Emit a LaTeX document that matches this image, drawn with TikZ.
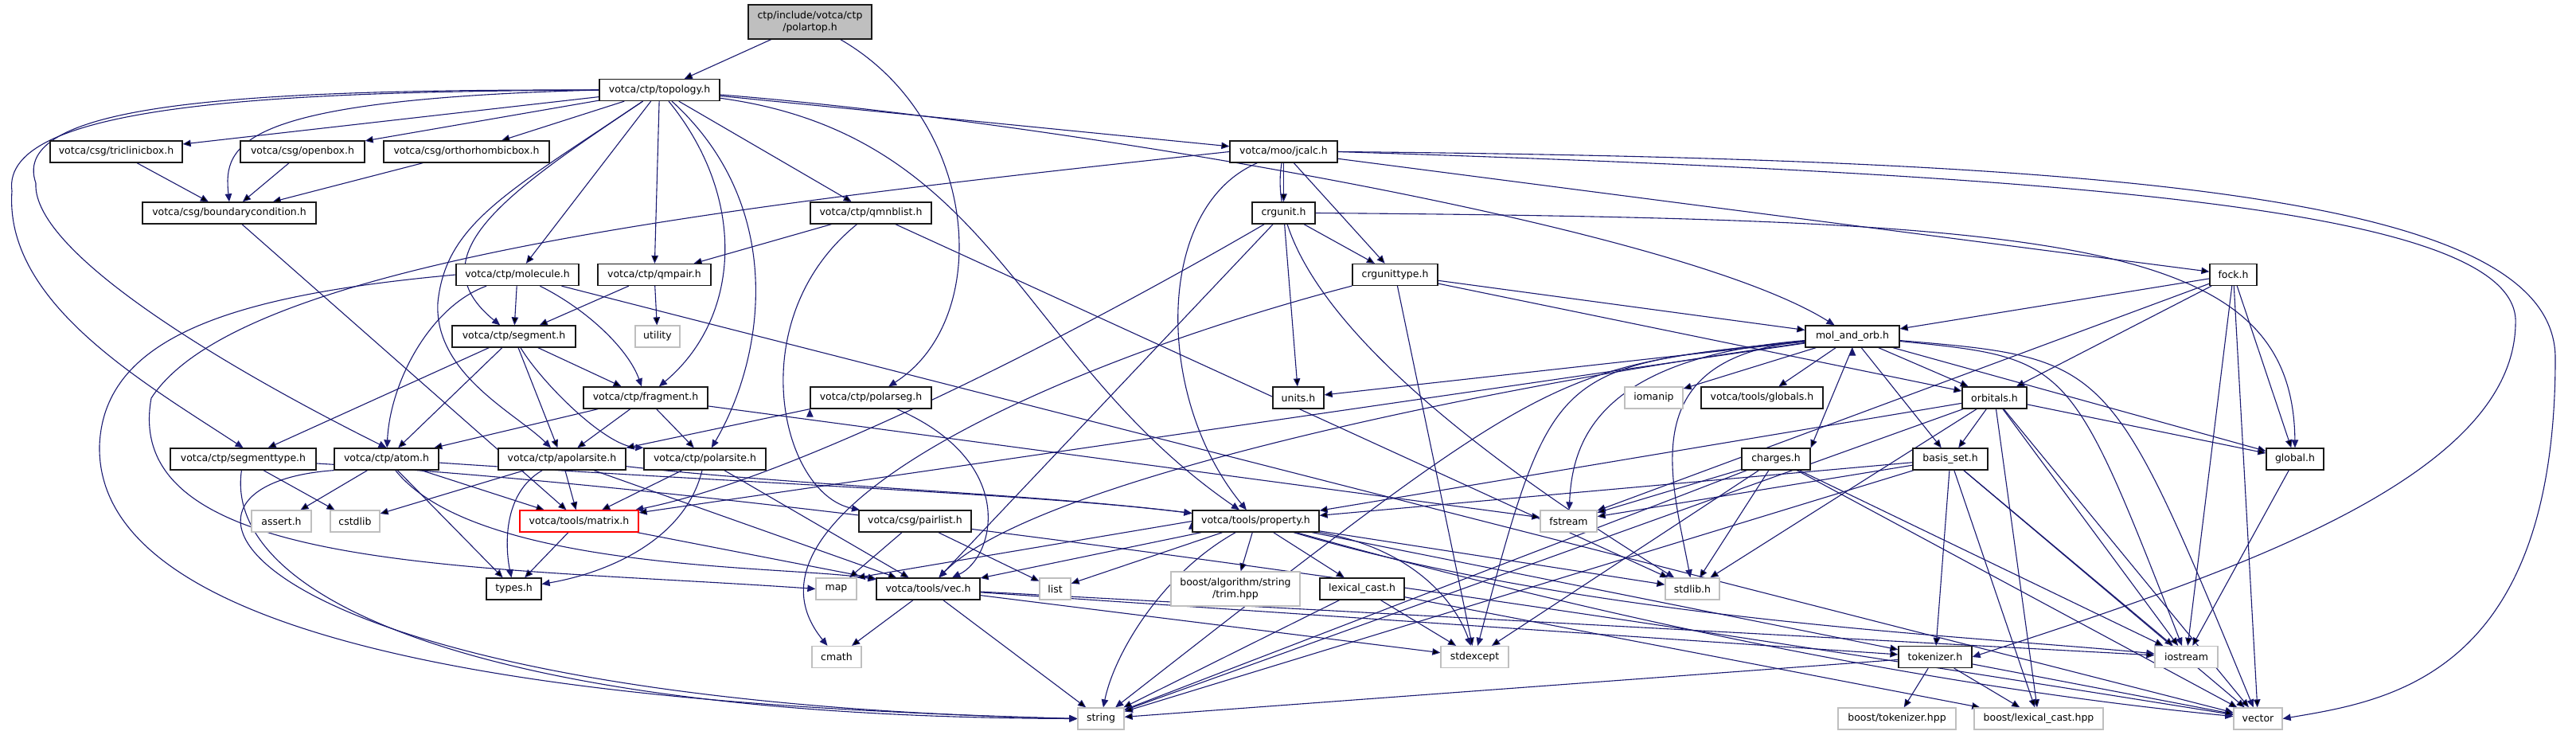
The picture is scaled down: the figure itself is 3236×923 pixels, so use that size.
\documentclass[tikz,border=0pt]{standalone}
\usepackage{fontspec}
\setmainfont{DejaVu Sans}
\usetikzlibrary{arrows.meta,backgrounds}
\definecolor{edgeblue}{RGB}{25,25,112}
\definecolor{sysgrey}{RGB}{191,191,191}
\definecolor{mainfill}{RGB}{191,191,191}
\definecolor{badred}{RGB}{255,0,0}

\begin{document}
\begin{tikzpicture}[
  x=1pt, y=-1pt,
  font=\fontsize{12.5}{15}\selectfont,
  file/.style={draw=black!90, line width=1.3pt, fill=white, minimum height=27pt,
               inner sep=0pt, align=center},
  sysfile/.style={file, draw=sysgrey},
  wd/.style={minimum width=#1pt},
  arr/.style={draw=edgeblue, line width=1.1pt, -{Triangle[length=10pt,width=8.5pt]}}
]
\useasboundingbox (0,0) rectangle (3236,923);

% headers of the project
\node[file, wd=155, minimum height=43pt, fill=mainfill] (polartop) at (1017.5,27.5) {ctp/include/votca/ctp\\/polartop.h};
\node[file, wd=151] (topology)  at (828.5,113)  {votca/ctp/topology.h};
\node[file, wd=166] (triclinic) at (146,190.5)  {votca/csg/triclinicbox.h};
\node[file, wd=156] (openbox)   at (380,190.5)  {votca/csg/openbox.h};
\node[file, wd=208] (orthobox)  at (586,190.5)  {votca/csg/orthorhombicbox.h};
\node[file, wd=135] (jcalc)     at (1612.5,190.5) {votca/moo/jcalc.h};
\node[file, wd=218] (bcond)     at (288,267.5)  {votca/csg/boundarycondition.h};
\node[file, wd=152] (qmnblist)  at (1094,267.5) {votca/ctp/qmnblist.h};
\node[file, wd=79]  (crgunit)   at (1612.5,267.5) {crgunit.h};
\node[file, wd=154] (molecule)  at (650,345)    {votca/ctp/molecule.h};
\node[file, wd=142] (qmpair)    at (822,345)    {votca/ctp/qmpair.h};
\node[file, wd=107] (crgtype)   at (1752.5,345) {crgunittype.h};
\node[file, wd=59]  (fock)      at (2805.5,345) {fock.h};
\node[file, wd=155] (segment)   at (645.5,422.5) {votca/ctp/segment.h};
\node[file, wd=118] (molorb)    at (2327,422.5) {mol\_and\_orb.h};
\node[file, wd=156] (fragment)  at (811,499.5)  {votca/ctp/fragment.h};
\node[file, wd=152] (polarseg)  at (1094,499.5) {votca/ctp/polarseg.h};
\node[file, wd=64]  (units)     at (1631,499.5) {units.h};
\node[file, wd=153] (globals)   at (2213.5,499.5) {votca/tools/globals.h};
\node[file, wd=81]  (orbitals)  at (2505.5,499.5) {orbitals.h};
\node[file, wd=183] (segtype)   at (305.5,576.5) {votca/ctp/segmenttype.h};
\node[file, wd=131] (atom)      at (485.5,576.5) {votca/ctp/atom.h};
\node[file, wd=160] (apolar)    at (706,576.5)  {votca/ctp/apolarsite.h};
\node[file, wd=153] (polar)     at (885.5,576.5) {votca/ctp/polarsite.h};
\node[file, wd=86]  (charges)   at (2231,576.5) {charges.h};
\node[file, wd=94]  (basisset)  at (2450,576.5) {basis\_set.h};
\node[file, wd=72]  (global)    at (2883,576.5) {global.h};
\node[file, wd=149, draw=badred] (matrix) at (727.5,654.5) {votca/tools/matrix.h};
\node[file, wd=141] (pairlist)  at (1149.5,654.5) {votca/csg/pairlist.h};
\node[file, wd=159] (property)  at (1577.5,654.5) {votca/tools/property.h};
\node[file, wd=69]  (types)     at (645.5,739.5) {types.h};
\node[file, wd=130] (vec)       at (1166,739.5) {votca/tools/vec.h};
\node[file, wd=106] (lexcast)   at (1711,739.5) {lexical\_cast.h};
\node[file, wd=92]  (tokenizer) at (2431,825)   {tokenizer.h};

% system headers
\node[sysfile, wd=56]  (utility)   at (826,422.5)  {utility};
\node[sysfile, wd=73]  (iomanip)   at (2077.5,499.5) {iomanip};
\node[sysfile, wd=75]  (assert)    at (353.5,654.5) {assert.h};
\node[sysfile, wd=62]  (cstdlib)   at (446,654.5)  {cstdlib};
\node[sysfile, wd=71]  (fstream)   at (1970.5,654.5) {fstream};
\node[sysfile, wd=51]  (map)       at (1050.5,739.5) {map};
\node[sysfile, wd=39]  (list)      at (1325.5,739.5) {list};
\node[sysfile, wd=162, minimum height=43pt] (trim) at (1552,739.5) {boost/algorithm/string\\/trim.hpp};
\node[sysfile, wd=68]  (stdlibh)   at (2126,739.5) {stdlib.h};
\node[sysfile, wd=62]  (cmath)     at (1051,825)   {cmath};
\node[sysfile, wd=85]  (stdexcept) at (1852.5,825) {stdexcept};
\node[sysfile, wd=79]  (iostream)  at (2746.5,825) {iostream};
\node[sysfile, wd=58]  (string)    at (1383,902.5) {string};
\node[sysfile, wd=148] (boosttok)  at (2383,902.5) {boost/tokenizer.hpp};
\node[sysfile, wd=162] (boostlex)  at (2561,902.5) {boost/lexical\_cast.hpp};
\node[sysfile, wd=61]  (vector)    at (2836.5,902.5) {vector};

\begin{scope}[on background layer]
% top of the graph
\path[arr] (polartop) edge (topology);
\draw[arr] (polartop) .. controls (1230,150) and (1250,400) .. (polarseg);
\path[arr] (topology) edge (triclinic) edge (openbox) edge (orthobox) edge (jcalc)
  edge (qmnblist) edge (molecule) edge (qmpair);
\draw[arr] (topology.west) .. controls (300,125) and (280,180) .. (bcond.north);
\draw[arr] (topology.west) .. controls (350,115) and (0,130) .. (15,240)
  .. controls (5,380) and (180,480) .. (segtype.north);
\draw[arr] (topology.west) .. controls (300,112) and (10,130) .. (45,230)
  .. controls (40,320) and (300,470) .. (atom.north);
\draw[arr] (topology) .. controls (640,240) and (520,320) .. (segment);
\draw[arr] (topology) .. controls (640,240) and (560,280) .. (550,380)
  .. controls (545,470) and (650,520) .. (apolar);
\draw[arr] (topology) .. controls (940,250) and (930,400) .. (fragment);
\draw[arr] (topology) .. controls (990,260) and (960,450) .. (polar);
\draw[arr] (topology) .. controls (1250,170) and (1280,450) .. (property);
\draw[arr] (topology) .. controls (1300,150) and (2100,280) .. (molorb);
\path[arr] (triclinic) edge (bcond);
\path[arr] (openbox) edge (bcond);
\path[arr] (orthobox) edge (bcond);
\path[arr] (bcond) edge (matrix);

% moo part
\path[arr] (jcalc) edge (crgunit) edge (crgtype) edge (fock);
\draw[arr] (jcalc) .. controls (1450,260) and (1450,500) .. (property);
\draw[arr] (jcalc) .. controls (1580,380) and (1900,600) .. (stdlibh);
\draw[arr] (jcalc.west) .. controls (900,260) and (300,330) .. (190,500)
  .. controls (150,720) and (600,710) .. (map.west);
\draw[arr] (jcalc.east) .. controls (2600,220) and (3150,260) .. (3160,400)
  .. controls (3165,600) and (2800,720) .. (tokenizer.east);
\draw[arr] (jcalc.east) .. controls (2700,200) and (3210,250) .. (3210,450)
  .. controls (3210,850) and (3000,880) .. (vector.east);
\path[arr] (qmnblist) edge (qmpair) edge (stdlibh);
\draw[arr] (qmnblist) .. controls (930,400) and (980,620) .. (pairlist);
\path[arr] (crgunit) edge (units) edge (crgtype) edge (vec);
\draw[arr] (crgunit) .. controls (1350,420) and (1000,600) .. (matrix);
\draw[arr] (crgunit.east) .. controls (2600,275) and (2880,300) .. (global.north);
\path[arr] (crgtype) edge (molorb) edge (orbitals) edge (stdexcept);
\draw[arr] (crgtype) .. controls (1350,450) and (900,640) .. (cmath);
\path[arr] (fock) edge (molorb) edge (orbitals) edge (global) edge (iostream)
  edge (vector) edge (fstream);

% ctp part
\path[arr] (molecule) edge (segment) edge (vector);
\draw[arr] (molecule) .. controls (540,385) and (490,480) .. (atom);
\draw[arr] (molecule) .. controls (740,390) and (790,440) .. (fragment);
\draw[arr] (molecule.west) .. controls (300,370) and (130,420) .. (125,560)
  .. controls (120,850) and (900,890) .. (string.west);
\path[arr] (qmpair) edge (segment) edge (utility);
\path[arr] (segment) edge (segtype) edge (atom) edge (apolar) edge (fragment);
\draw[arr] (segment) .. controls (680,480) and (760,560) .. (polar.north west);
\path[arr] (fragment) edge (atom) edge (apolar) edge (polar) edge (fstream);
\path[arr] (polarseg.south west) edge (apolar.north east);
\draw[arr] (polarseg) .. controls (1280,580) and (1250,700) .. (vec);
\path[arr] (segtype) edge (cstdlib);
\draw[arr] (segtype) .. controls (280,750) and (600,900) .. (string.west);
\draw[arr] (segtype) .. controls (900,612) and (1700,720) .. (vector);
\path[arr] (atom) edge (assert) edge (types) edge (matrix);
\draw[arr] (atom) .. controls (600,720) and (1000,710) .. (vec);
\draw[arr] (atom) .. controls (900,605) and (1300,620) .. (property);
\draw[arr] (atom.south west) .. controls (150,610) and (300,880) .. (string.west);
\path[arr] (apolar) edge (cstdlib) edge (matrix) edge (vec);
\draw[arr] (apolar) .. controls (630,620) and (635,690) .. (types);
\draw[arr] (apolar) .. controls (1000,610) and (1300,620) .. (property);
\path[arr] (polar) edge (matrix) edge (vec);
\draw[arr] (polar) .. controls (860,680) and (760,720) .. (types);
\path[arr] (matrix) edge (types) edge (vec);
\path[arr] (pairlist) edge (map) edge (list);

% mol_and_orb part
\path[arr] (molorb) edge (units) edge (iomanip) edge (globals) edge (orbitals)
  edge (basisset) edge (global) edge (matrix);
\path[arr] (molorb.south) edge (charges.north east);
\draw[arr] (molorb) .. controls (2000,450) and (1975,560) .. (fstream);
\draw[arr] (molorb) .. controls (2050,450) and (2100,600) .. (stdlibh);
\draw[arr] (molorb) .. controls (1950,460) .. (stdexcept);
\draw[arr] (molorb) .. controls (1950,460) .. (string);
\draw[arr] (molorb) .. controls (1900,480) and (1300,600) .. (vec);
\draw[arr] (molorb) .. controls (2600,450) .. (iostream);
\draw[arr] (molorb) .. controls (2650,450) .. (vector);
\path[arr] (orbitals) edge (basisset) edge (global) edge (iostream) edge (vector)
  edge (boostlex) edge (stdlibh) edge (string) edge (property);
\path[arr] (charges) edge (fstream) edge (stdlibh) edge (stdexcept) edge (iostream)
  edge (vector) edge (string);
\path[arr] (basisset) edge (property) edge (fstream) edge (tokenizer) edge (boostlex)
  edge (iostream) edge (vector) edge (string);
\path[arr] (global) edge (iostream);

% tools part
\path[arr] (property.west) edge (map.north east);
\path[arr] (property) edge (vec) edge (list) edge (trim) edge (lexcast) edge (stdlibh)
  edge (tokenizer);
\draw[arr] (property) .. controls (1460,720) and (1400,820) .. (string);
\draw[arr] (property) .. controls (1780,690) and (1830,760) .. (stdexcept);
\draw[arr] (property) .. controls (2000,780) and (2500,800) .. (iostream);
\draw[arr] (property) .. controls (2100,800) and (2500,870) .. (vector);
\path[arr] (lexcast) edge (string) edge (stdexcept) edge (boostlex);
\path[arr] (vec) edge (cmath) edge (string) edge (stdexcept) edge (iostream) edge (tokenizer);
\path[arr] (tokenizer) edge (boosttok) edge (boostlex) edge (vector) edge (string);
\end{scope}
\end{tikzpicture}
\end{document}
